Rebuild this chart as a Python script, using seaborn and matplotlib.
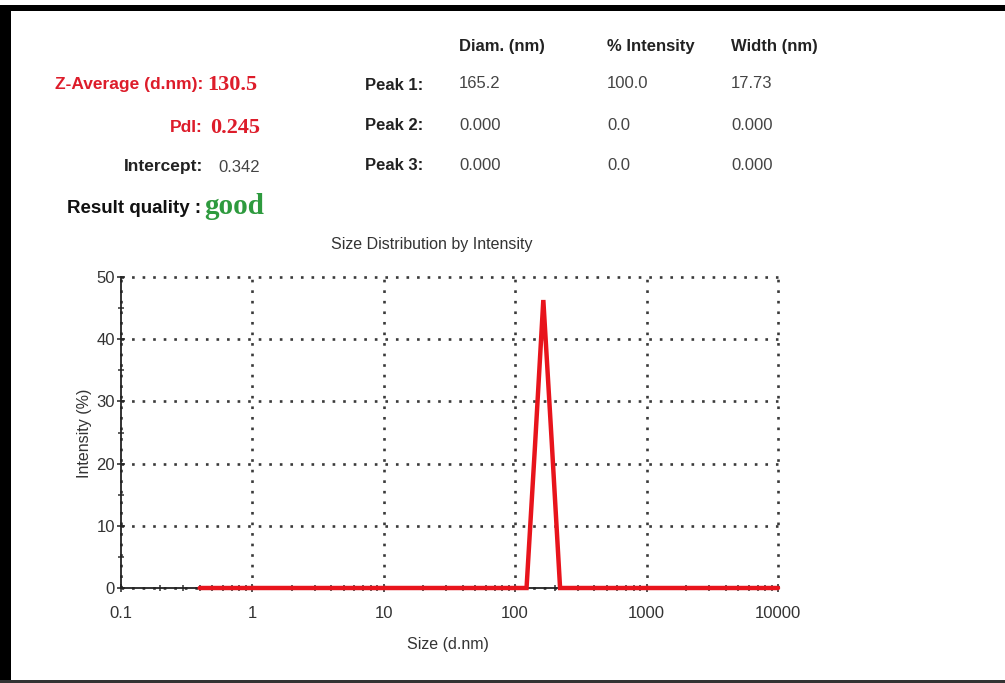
import numpy as np
import pandas as pd
import matplotlib
matplotlib.use("Agg")
import matplotlib.pyplot as plt
import seaborn as sns
from matplotlib.patches import Rectangle
from matplotlib.ticker import FixedLocator, NullFormatter

# ---------------- data ----------------
size_bins = [0.4, 0.4632, 0.5365, 0.6213, 0.7195, 0.8332, 0.9649, 1.117, 1.294, 1.499,
             1.736, 2.010, 2.328, 2.696, 3.122, 3.615, 4.187, 4.849, 5.615, 6.503,
             7.531, 8.721, 10.10, 11.70, 13.54, 15.69, 18.17, 21.04, 24.36, 28.21,
             32.67, 37.84, 43.82, 50.75, 58.77, 68.06, 78.82, 91.28, 105.7, 122.4,
             141.8, 164.2, 190.1, 220.2, 255.0, 295.3, 342.0, 396.1, 458.7, 531.2,
             615.1, 712.4, 825.0, 955.4, 1106, 1281, 1484, 1718, 1990, 2305,
             2669, 3091, 3580, 4145, 4801, 5560, 6439, 7456, 8635, 10000]
intensity = [0, 0, 0, 0, 0, 0, 0, 0, 0, 0,
             0, 0, 0, 0, 0, 0, 0, 0, 0, 0,
             0, 0, 0, 0, 0, 0, 0, 0, 0, 0,
             0, 0, 0, 0, 0, 0, 0, 0, 0, 0,
             22.7, 46.3, 23.6, 0, 0, 0, 0, 0, 0, 0,
             0, 0, 0, 0, 0, 0, 0, 0, 0, 0,
             0, 0, 0, 0, 0, 0, 0, 0, 0, 0]
x_ticks = [0.1, 1, 10, 100, 1000, 10000]
x_tick_labels = ["0.1", "1", "10", "100", "1000", "10000"]
y_ticks = [0, 10, 20, 30, 40, 50]

summary_labels = ["Z-Average (d.nm):", "PdI:", "Intercept:"]
summary_values = ["130.5", "0.245", "0.342"]
quality_label = "Result quality :"
quality_value = "good"
peak_names = ["Peak 1:", "Peak 2:", "Peak 3:"]
col_headers = ["Diam. (nm)", "% Intensity", "Width (nm)"]
peak_diam = ["165.2", "0.000", "0.000"]
peak_intensity = ["100.0", "0.0", "0.0"]
peak_width = ["17.73", "0.000", "0.000"]

df = pd.DataFrame({"size": size_bins, "intensity": intensity})

# ---------------- figure ----------------
sns.set_theme(style="white")
plt.rcParams['font.family'] = ['Liberation Sans', 'DejaVu Sans']

W, H = 1005, 683
fig = plt.figure(figsize=(W / 100, H / 100), dpi=100)
fig.patch.set_facecolor("white")

def fx(px):
    return px / W

def fy(py):
    return 1 - py / H

left, right, top, bottom = 120.5, 778, 277, 588
ax = fig.add_axes([fx(left), fy(bottom), fx(right) - fx(left), fy(top) - fy(bottom)])

sns.lineplot(data=df, x="size", y="intensity", ax=ax, color="#e8141c",
             linewidth=3.2, estimator=None, sort=False, zorder=5)
for l in ax.lines:
    l.set_clip_on(False)
    l.set_solid_joinstyle("miter")

ax.set_xscale("log")
ax.set_xlim(0.1, 10000)
ax.set_ylim(0, 50)

ax.xaxis.set_major_locator(FixedLocator(x_ticks))
ax.set_xticklabels(x_tick_labels)
minor_x = [m * d for d in [0.1, 1, 10, 100, 1000] for m in range(2, 10)]
ax.xaxis.set_minor_locator(FixedLocator(minor_x))
ax.xaxis.set_minor_formatter(NullFormatter())
ax.yaxis.set_major_locator(FixedLocator(y_ticks))
ax.yaxis.set_minor_locator(FixedLocator([5, 15, 25, 35, 45]))

grid_style = dict(color="#3a3a3a", linestyle=(0, (1, 3.0)), linewidth=1.9)
ax.grid(True, which="major", axis="both", **grid_style)
ax.set_axisbelow(True)
for gl in ax.get_xgridlines() + ax.get_ygridlines():
    gl.set_clip_on(False)

for s in ["top", "right"]:
    ax.spines[s].set_visible(False)
for s in ["left", "bottom"]:
    ax.spines[s].set_visible(True)
    ax.spines[s].set_color("#222222")
    ax.spines[s].set_linewidth(1.3)

ax.tick_params(axis="both", which="major", direction="inout", length=6, width=1.1,
               color="#222222", labelsize=12, labelcolor="#333333", pad=1,
               left=True, bottom=True)
ax.tick_params(axis="both", which="minor", direction="inout", length=4, width=1.1,
               color="#333333", left=True, bottom=True)
ax.tick_params(axis="x", which="major", pad=10)
ax.set_xlabel("")
ax.set_ylabel("")

# axis labels and title
fig.text(fx(432), fy(244), "Size Distribution by Intensity", ha="center", va="center",
         fontsize=11.5, color="#333333")
fig.text(fx(448), fy(645), "Size (d.nm)", ha="center", va="center",
         fontsize=11.5, color="#333333")
fig.text(fx(84), fy(433), "Intensity (%)", ha="center", va="center", rotation=90,
         fontsize=11.5, color="#333333")

# ---------------- header text ----------------
red = "#dd1c2a"
sans = ['Liberation Sans', 'DejaVu Sans']
serif = ['Liberation Serif', 'DejaVu Serif']

label_y = [84, 127, 166]
value_x = [207, 210, 218]
label_colors = [red, red, "#222222"]
value_families = [serif, serif, sans]
value_colors = [red, red, "#444444"]
value_weights = ["bold", "bold", "normal"]
value_sizes = [16, 16, 12]
for i in range(3):
    fig.text(fx(203), fy(label_y[i]), summary_labels[i], ha="right", va="center",
             fontsize=12.5, family=sans, color=label_colors[i], fontweight="bold")
    fig.text(fx(value_x[i]), fy(label_y[i] + 1), summary_values[i], ha="left", va="center",
             fontsize=value_sizes[i], family=value_families[i], color=value_colors[i],
             fontweight=value_weights[i])

fig.text(fx(67), fy(209), quality_label, ha="left", va="center", fontsize=13.5,
         family=sans, color="#111111", fontweight="bold")
fig.text(fx(204), fy(207), quality_value, ha="left", va="center", fontsize=21,
         family=serif, color="#2e9a3e", fontweight="bold")

peak_y = [86, 126, 166]
for i in range(3):
    fig.text(fx(423), fy(peak_y[i]), peak_names[i], ha="right", va="center",
             fontsize=12, family=sans, color="#222222", fontweight="bold")

col_x = [459, 607, 731]
for j in range(3):
    fig.text(fx(col_x[j]), fy(46), col_headers[j], ha="left", va="center",
             fontsize=12, family=sans, color="#222222", fontweight="bold")
cols = [peak_diam, peak_intensity, peak_width]
row_y = [84, 125, 165]
for j in range(3):
    for i in range(3):
        fig.text(fx(col_x[j]), fy(row_y[i]), cols[j][i], ha="left", va="center",
                 fontsize=12, family=sans, color="#444444")

# ---------------- frame ----------------
fig.add_artist(Rectangle((0, fy(683)), fx(11), fy(5) - fy(683), transform=fig.transFigure,
                         facecolor="black", edgecolor="none", zorder=10))
fig.add_artist(Rectangle((0, fy(11)), 1, fy(5) - fy(11), transform=fig.transFigure,
                         facecolor="black", edgecolor="none", zorder=10))
fig.add_artist(Rectangle((0, 0), 1, fy(680), transform=fig.transFigure,
                         facecolor="#333333", edgecolor="none", zorder=10))

fig.savefig("out.png", dpi=100, facecolor="white")
